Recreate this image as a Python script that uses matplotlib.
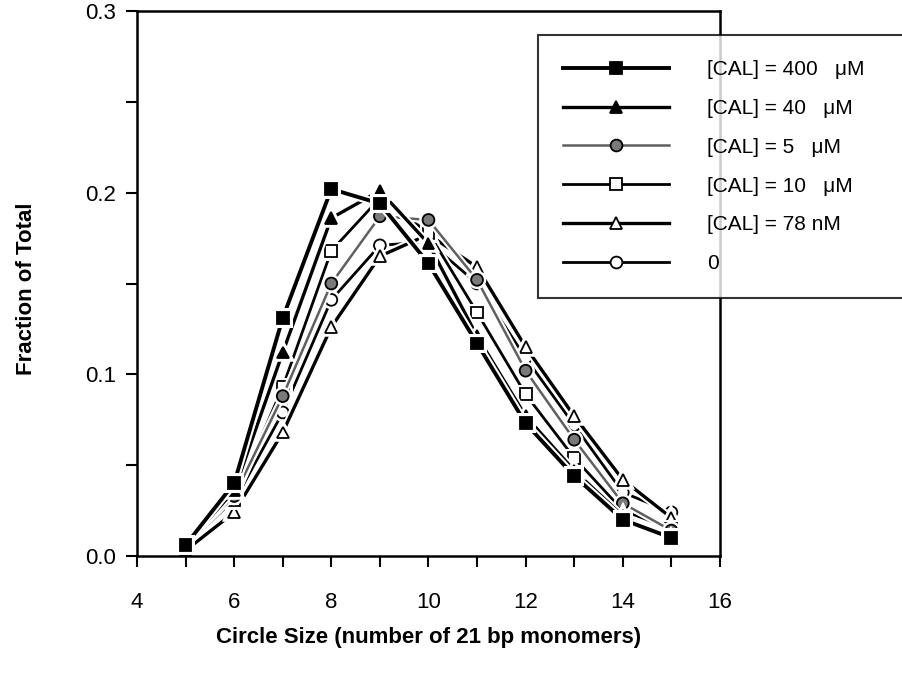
import matplotlib

matplotlib.use("Agg")
import matplotlib.pyplot as plt
import matplotlib.patheffects as pe
from matplotlib.ticker import MultipleLocator

plt.rcParams["font.family"] = ["Liberation Sans", "DejaVu Sans"]

# circle size (number of 21 bp monomers)
sizes = [5, 6, 7, 8, 9, 10, 11, 12, 13, 14, 15]

# fraction of total
cal_400uM = [0.006, 0.040, 0.131, 0.202, 0.194, 0.161, 0.117, 0.073, 0.044, 0.020, 0.010]
cal_40uM = [0.006, 0.036, 0.112, 0.186, 0.201, 0.172, 0.121, 0.077, 0.047, 0.022, 0.009]
cal_5uM = [0.007, 0.033, 0.088, 0.150, 0.187, 0.185, 0.152, 0.102, 0.064, 0.029, 0.014]
cal_10uM = [0.006, 0.031, 0.093, 0.168, 0.197, 0.178, 0.134, 0.089, 0.054, 0.025, 0.015]
cal_78nM = [0.003, 0.024, 0.068, 0.126, 0.165, 0.177, 0.159, 0.115, 0.077, 0.042, 0.021]
cal_0 = [0.008, 0.030, 0.079, 0.141, 0.171, 0.173, 0.150, 0.109, 0.072, 0.035, 0.024]

labels = ["[CAL] = 400   \u03bcM", "[CAL] = 40   \u03bcM", "[CAL] = 5   \u03bcM",
          "[CAL] = 10   \u03bcM", "[CAL] = 78 nM", "0"]

# (values, marker, face colour, line colour, line width)
series = [
    (cal_0, "o", "white", "black", 2.0),
    (cal_78nM, "^", "white", "black", 2.4),
    (cal_10uM, "s", "white", "black", 2.0),
    (cal_5uM, "o", "#7a7a7a", "#606060", 1.8),
    (cal_40uM, "^", "black", "black", 2.4),
    (cal_400uM, "s", "black", "black", 2.8),
]
order = [5, 4, 3, 2, 1, 0]  # legend order: 400 uM first

fig = plt.figure(figsize=(9.03, 6.81), dpi=100)
ax = fig.add_axes([0.1517, 0.1836, 0.6456, 0.8002])

handles = []
for vals, mk, fc, lc, lw in series:
    (h,) = ax.plot(sizes, vals, color=lc, lw=lw, marker=mk, ms=8.5,
                   mfc=fc, mec="black", mew=1.3, solid_joinstyle="miter",
                   path_effects=[pe.Stroke(linewidth=lw + 3, foreground="white"),
                                 pe.Normal()])
    handles.append(h)

ax.set_xlim(4, 16)
ax.set_ylim(0, 0.3)
ax.xaxis.set_major_locator(MultipleLocator(2))
ax.xaxis.set_minor_locator(MultipleLocator(1))
ax.yaxis.set_major_locator(MultipleLocator(0.1))
ax.yaxis.set_minor_locator(MultipleLocator(0.05))
ax.yaxis.set_major_formatter(plt.FuncFormatter(lambda v, p: f"{v:.1f}"))
ax.tick_params(which="both", direction="out", length=8, width=1.5,
               labelsize=16)
ax.tick_params(axis="x", pad=18)
ax.tick_params(axis="y", pad=7)
for s in ax.spines.values():
    s.set_linewidth(1.8)

ax.set_xlabel("Circle Size (number of 21 bp monomers)", fontsize=16,
              fontweight="bold", va="center")
ax.xaxis.set_label_coords(0.5, -0.150)
ax.set_ylabel("Fraction of Total", fontsize=16, fontweight="bold",
              va="center", ha="center")
ax.yaxis.set_label_coords(-0.189, 0.49)

leg = fig.legend([handles[i] for i in order], labels, loc="upper left",
                 bbox_to_anchor=(538 / 903, 1 - 42 / 681, 0.5, 0.01),
                 mode="expand", numpoints=1, fontsize=15, frameon=True,
                 fancybox=False, edgecolor="black", handlelength=5.1,
                 handletextpad=1.8, labelspacing=0.95, borderpad=1.2,
                 borderaxespad=0)
leg.get_frame().set_linewidth(1.5)
for h in leg.legend_handles:
    h.set_path_effects([])

fig.savefig("out.png", dpi=100)
